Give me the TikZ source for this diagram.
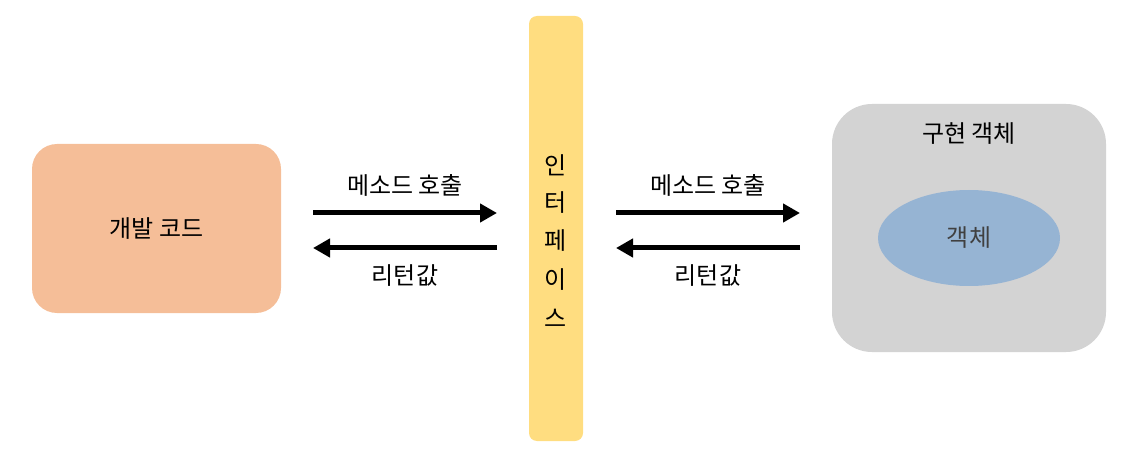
\documentclass[tikz,border=0pt]{standalone}
\usepackage{fontspec}
\setmainfont{Noto Sans CJK KR}
\usetikzlibrary{arrows.meta,shapes.geometric}
\definecolor{codec}{HTML}{F5BE98}
\definecolor{ifc}{HTML}{FFDD80}
\definecolor{implc}{HTML}{D3D3D3}
\definecolor{objc}{HTML}{96B4D3}
\definecolor{objt}{HTML}{404040}
\tikzset{
  lbl/.style={font=\fontsize{24}{28}\selectfont, inner sep=0pt},
  flow/.style={line width=5pt, -{Triangle[length=17pt,width=18pt]}},
}
\begin{document}
\begin{tikzpicture}[x=1pt,y=-1pt]
\useasboundingbox (0,0) rectangle (1132,462);
% left box
\node[draw=none, fill=codec, rounded corners=25pt, minimum width=249pt, minimum height=169pt, lbl] (code) at (156.5,228.5) {개발 코드};
% interface bar
\node[fill=ifc, rounded corners=8pt, minimum width=54pt, minimum height=425pt, inner sep=0pt] (iface) at (556,228.5) {};
\node[lbl] (i1) at (556,165) {인};
\node[lbl] (i2) at (556,203) {터};
\node[lbl] (i3) at (556,241) {페};
\node[lbl] (i4) at (556,280) {이};
\node[lbl] (i5) at (556,318) {스};
% right box
\node[fill=implc, rounded corners=40pt, minimum width=274pt, minimum height=248pt, inner sep=0pt] (impl) at (969,228) {};
\node[lbl] (impltitle) at (969,134) {구현 객체};
\node[ellipse, fill=objc, minimum width=182pt, minimum height=96pt, inner sep=0pt, lbl, text=objt] (obj) at (969,238) {객체};
% arrow coordinates
\coordinate (a1s) at (313,213);
\coordinate (a1e) at (497,213);
\coordinate (a2s) at (497,248);
\coordinate (a2e) at (313,248);
\coordinate (b1s) at (616,213);
\coordinate (b1e) at (800,213);
\coordinate (b2s) at (800,248);
\coordinate (b2e) at (616,248);
\draw[flow] (a1s) -- (a1e);
\draw[flow] (a2s) -- (a2e);
\draw[flow] (b1s) -- (b1e);
\draw[flow] (b2s) -- (b2e);
\node[lbl] (l1) at (405,185) {메소드 호출};
\node[lbl] (l2) at (405,276) {리턴값};
\node[lbl] (l3) at (708,185) {메소드 호출};
\node[lbl] (l4) at (708,276) {리턴값};
\end{tikzpicture}
\end{document}
